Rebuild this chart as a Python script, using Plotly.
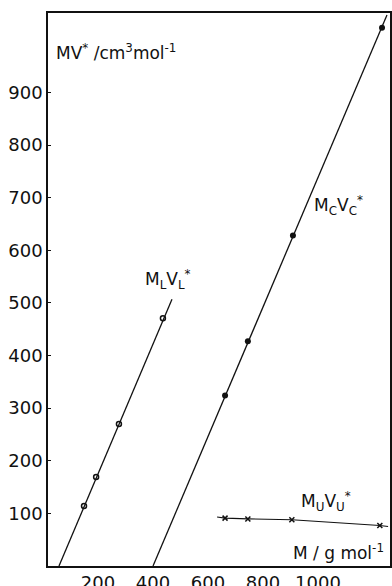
import plotly.graph_objects as go

# ---- data ----
# M_L V_L* series (open circles)
L_M = [149, 193, 276, 436]
L_MV = [114, 169, 270, 471]
L_fit_M = [58, 469]
L_fit_MV = [0, 507]

# M_C V_C* series (filled dots)
C_M = [662, 745, 909, 1233]
C_MV = [324, 427, 628, 1023]
C_fit_M = [400, 1251]
C_fit_MV = [0, 1047]

# M_U V_U* series (crosses)
U_M = [662, 745, 905, 1225]
U_MV = [91, 89.5, 88, 77]
U_line_M = [633, 662, 745, 905, 1225, 1255]
U_line_MV = [93, 91, 89.5, 88, 77, 75]

x_ticks = [200, 400, 600, 800, 1000]
y_ticks = [100, 200, 300, 400, 500, 600, 700, 800, 900]

FONT = "DejaVu Sans"
INK = "#111111"

fig = go.Figure()

# fitted lines
fig.add_trace(go.Scatter(x=L_fit_M, y=L_fit_MV, mode="lines",
                         line=dict(color=INK, width=1.3), showlegend=False, hoverinfo="skip"))
fig.add_trace(go.Scatter(x=C_fit_M, y=C_fit_MV, mode="lines",
                         line=dict(color=INK, width=1.3), showlegend=False, hoverinfo="skip"))
fig.add_trace(go.Scatter(x=U_line_M, y=U_line_MV, mode="lines",
                         line=dict(color=INK, width=1.1), showlegend=False, hoverinfo="skip"))

# points
fig.add_trace(go.Scatter(x=L_M, y=L_MV, mode="markers",
                         marker=dict(symbol="circle-open", size=5, color=INK, line=dict(width=1.5, color=INK)),
                         showlegend=False))
fig.add_trace(go.Scatter(x=C_M, y=C_MV, mode="markers",
                         marker=dict(symbol="circle", size=6, color=INK),
                         showlegend=False))
fig.add_trace(go.Scatter(x=U_M, y=U_MV, mode="markers",
                         marker=dict(symbol="x-thin-open", size=5, color=INK, line=dict(width=1.5, color=INK)),
                         showlegend=False))

ann_font = dict(family=FONT, size=17, color=INK)
annotations = [
    dict(x=40, y=977, text="MV<sup>*</sup> /cm<sup>3</sup>mol<sup>-1</sup>", xanchor="left", yanchor="middle"),
    dict(x=365, y=545, text="M<sub>L</sub>V<sub>L</sub><sup>*</sup>", xanchor="left", yanchor="middle"),
    dict(x=980, y=685, text="M<sub>C</sub>V<sub>C</sub><sup>*</sup>", xanchor="left", yanchor="middle"),
    dict(x=930, y=122, text="M<sub>U</sub>V<sub>U</sub><sup>*</sup>", xanchor="left", yanchor="middle"),
    dict(x=903, y=26, text="M / g mol<sup>-1</sup>", xanchor="left", yanchor="middle"),
]
for a in annotations:
    a.update(xref="x", yref="y", showarrow=False, font=ann_font)

fig.update_layout(
    width=392, height=586,
    margin=dict(l=48, r=2, t=13, b=20),
    paper_bgcolor="white", plot_bgcolor="white",
    annotations=annotations,
    showlegend=False,
)
fig.update_xaxes(range=[18, 1262], tickvals=x_ticks, ticktext=[str(v) for v in x_ticks],
                 showgrid=False, zeroline=False, showline=True, mirror=True,
                 linecolor=INK, linewidth=1.5, ticks="", automargin=False,
                 tickfont=dict(family=FONT, size=18, color=INK))
fig.update_yaxes(range=[0, 1051], tickvals=y_ticks, ticktext=[str(v) for v in y_ticks],
                 showgrid=False, zeroline=False, showline=True, mirror=True,
                 linecolor=INK, linewidth=1.5, ticks="inside", ticklen=3, tickcolor=INK,
                 automargin=False,
                 tickfont=dict(family=FONT, size=18, color=INK))

# remove the default 8px page margin so the 392x586 figure fills the window
fig.write_html("out.html", config={"displayModeBar": False},
               post_script="document.body.style.margin='0';")
